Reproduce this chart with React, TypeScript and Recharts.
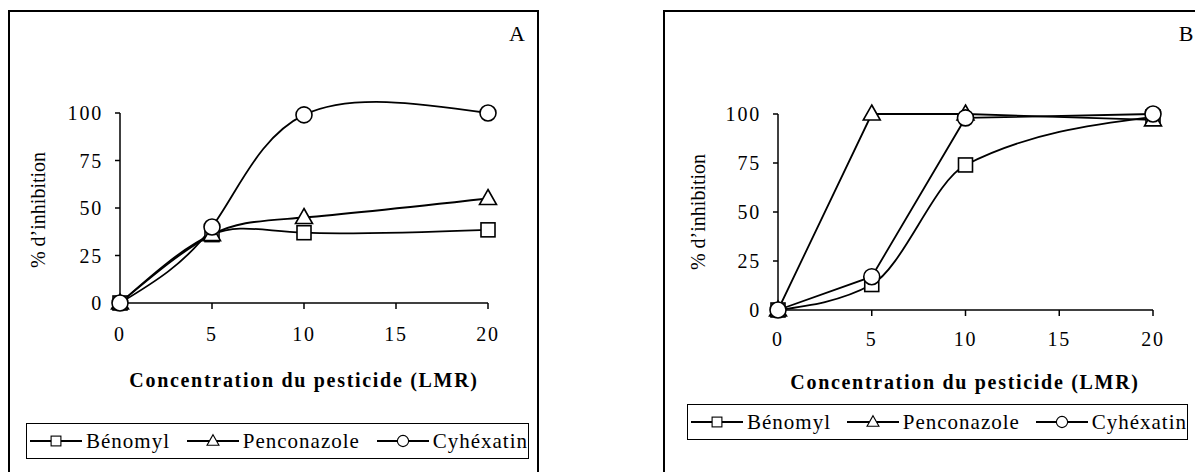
import React from 'react';
import { LineChart, Line, XAxis, YAxis } from 'recharts';

const concentrations = [0, 5, 10, 20];
const xTicks = [0, 5, 10, 15, 20];
const yTicks = [0, 25, 50, 75, 100];
const seriesNames = ['Bénomyl', 'Penconazole', 'Cyhéxatin'];

// panel A
const benomylA = [0, 36, 37, 38.5];
const penconazoleA = [0, 36, 45, 55];
const cyhexatinA = [0, 40, 99, 100];

// panel B
const benomylB = [0, 13, 74, 98.5];
const penconazoleB = [0, 100, 100, 97];
const cyhexatinB = [0, 17, 98, 100];

const FONT = '"Liberation Serif", "Times New Roman", serif';

const buildRows = (a: number[], b: number[], c: number[]) =>
  concentrations.map((x, i) => ({ x, benomyl: a[i], penconazole: b[i], cyhexatin: c[i] }));

const dataA = buildRows(benomylA, penconazoleA, cyhexatinA);
const dataB = buildRows(benomylB, penconazoleB, cyhexatinB);

function SquareMark({ cx, cy }: { cx: number; cy: number }) {
  return <rect x={cx - 7} y={cy - 7} width={14} height={14} fill="#fff" stroke="#000" strokeWidth={1.6} />;
}

function TriangleMark({ cx, cy }: { cx: number; cy: number }) {
  return (
    <polygon
      points={`${cx},${cy - 9} ${cx + 8.5},${cy + 6} ${cx - 8.5},${cy + 6}`}
      fill="#fff"
      stroke="#000"
      strokeWidth={1.6}
    />
  );
}

function CircleMark({ cx, cy }: { cx: number; cy: number }) {
  return <circle cx={cx} cy={cy} r={8} fill="#fff" stroke="#000" strokeWidth={1.6} />;
}

const markers = [SquareMark, TriangleMark, CircleMark];

function dotRenderer(Mark: typeof SquareMark) {
  return (props: any) => {
    if (props.cx == null || props.cy == null) return <g key={props.index} />;
    return (
      <g key={props.index}>
        <Mark cx={props.cx} cy={props.cy} />
      </g>
    );
  };
}

const tickStyle = { fill: '#000', fontSize: 20, fontFamily: FONT, letterSpacing: 1.8 };

interface PanelProps {
  data: any[];
  left: number;
  width: number;
  margin: { top: number; right: number; bottom: number; left: number };
  curves: ('natural' | 'monotone' | 'linear')[];
  xTickMargin: number;
}

function Panel({ data, left, width, margin, curves, xTickMargin }: PanelProps) {
  const keys = ['benomyl', 'penconazole', 'cyhexatin'];
  return (
    <div style={{ position: 'absolute', left, top: 0 }}>
      <LineChart width={width} height={472} data={data} margin={margin}>
        <XAxis
          dataKey="x"
          type="number"
          domain={[0, 20]}
          ticks={xTicks}
          height={60}
          stroke="#000"
          strokeWidth={1.5}
          tickSize={6}
          tickMargin={xTickMargin}
          tick={tickStyle}
          interval={0}
        />
        <YAxis
          type="number"
          domain={[0, 100]}
          ticks={yTicks}
          width={60}
          stroke="#000"
          strokeWidth={1.5}
          tickSize={5}
          tickMargin={12}
          tick={tickStyle}
          interval={0}
        />
        {keys.map((k, i) => (
          <Line
            key={k}
            dataKey={k}
            type={curves[i]}
            stroke="#000"
            strokeWidth={1.8}
            dot={dotRenderer(markers[i])}
            activeDot={false}
            isAnimationActive={false}
          />
        ))}
      </LineChart>
    </div>
  );
}

function LegendBox({ left, top, width }: { left: number; top: number; width: number }) {
  return (
    <div
      style={{
        position: 'absolute',
        left,
        top,
        width,
        height: 36,
        boxSizing: 'border-box',
        border: '1.5px solid #000',
        display: 'flex',
        alignItems: 'center',
        justifyContent: 'space-between',
        padding: '0 0 0 3px',
        fontFamily: FONT,
        fontSize: 21,
        letterSpacing: 1,
        color: '#000',
        whiteSpace: 'nowrap',
      }}
    >
      {seriesNames.map((name, i) => {
        const Mark = markers[i];
        return (
          <div key={name} style={{ display: 'flex', alignItems: 'center' }}>
            <svg width={52} height={22}>
              <line x1={0} y1={11} x2={52} y2={11} stroke="#000" strokeWidth={1.8} />
              <g transform="translate(26,11) scale(0.7) translate(-26,-11)">
                <Mark cx={26} cy={11} />
              </g>
            </svg>
            <span style={{ marginLeft: 4 }}>{name}</span>
          </div>
        );
      })}
    </div>
  );
}

const axisTitle: React.CSSProperties = {
  position: 'absolute',
  fontFamily: FONT,
  fontWeight: 'bold',
  fontSize: 20,
  letterSpacing: 1.7,
  color: '#000',
  whiteSpace: 'nowrap',
  transform: 'translate(-50%, -50%)',
};

const yTitle: React.CSSProperties = {
  position: 'absolute',
  fontFamily: FONT,
  fontSize: 20,
  color: '#000',
  whiteSpace: 'nowrap',
  transform: 'translate(-50%, -50%) rotate(-90deg)',
};

const panelLetter: React.CSSProperties = {
  position: 'absolute',
  fontFamily: FONT,
  fontSize: 22,
  color: '#000',
  transform: 'translate(-50%, -50%)',
};

export default function App() {
  return (
    <div
      style={{
        position: 'absolute',
        left: 0,
        top: 0,
        width: 1195,
        height: 472,
        background: '#fff',
        overflow: 'hidden',
      }}
    >
      {/* frames */}
      <div style={{ position: 'absolute', left: 8, top: 10, width: 531, height: 480, boxSizing: 'border-box', border: '2px solid #000' }} />
      <div style={{ position: 'absolute', left: 663, top: 10, width: 560, height: 480, boxSizing: 'border-box', border: '2px solid #000' }} />

      <Panel
        data={dataA}
        left={0}
        width={560}
        margin={{ top: 113, right: 72, bottom: 472 - 303 - 60, left: 60 }}
        curves={['natural', 'natural', 'natural']}
        xTickMargin={18}
      />
      <Panel
        data={dataB}
        left={640}
        width={555}
        margin={{ top: 114, right: 42, bottom: 472 - 310 - 60, left: 78 }}
        curves={['monotone', 'linear', 'linear']}
        xTickMargin={16}
      />

      <div style={{ ...axisTitle, left: 304, top: 380 }}>Concentration du pesticide (LMR)</div>
      <div style={{ ...axisTitle, left: 965, top: 382 }}>Concentration du pesticide (LMR)</div>

      <div style={{ ...yTitle, left: 38, top: 210 }}>% d’inhibition</div>
      <div style={{ ...yTitle, left: 698, top: 212 }}>% d’inhibition</div>

      <div style={{ ...panelLetter, left: 517, top: 34 }}>A</div>
      <div style={{ ...panelLetter, left: 1186, top: 34 }}>B</div>

      <LegendBox left={26} top={423} width={503} />
      <LegendBox left={687} top={404} width={501} />
    </div>
  );
}
